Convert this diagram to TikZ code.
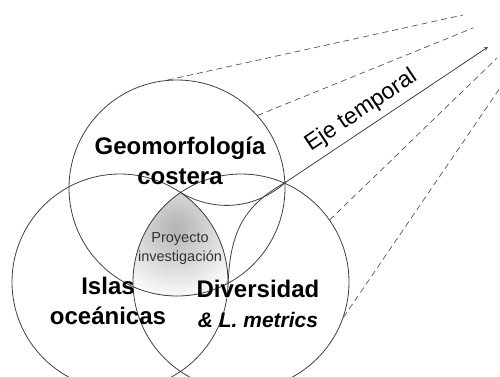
\documentclass[tikz,border=0pt]{standalone}
\usepackage{fontspec}
\setmainfont{Liberation Sans}
\usetikzlibrary{arrows}
\definecolor{linea}{HTML}{404040}
\definecolor{trazo}{HTML}{555555}
\begin{document}
\begin{tikzpicture}[x=1pt, y=-1pt, >=stealth, line width=0.8pt,
  tema/.style={font=\fontsize{24}{30}\selectfont\bfseries, align=center},
  esfera/.style={circle, draw=linea, minimum size=216pt, inner sep=0pt},
  proy/.style={dashed, draw=trazo, line width=0.7pt, dash pattern=on 6pt off 4pt}]
\useasboundingbox (0,0) rectangle (500,376);
% Sombreado del proyecto
\begin{scope}
\clip (120,282) circle (108);
\clip (241,282) circle (108);
\clip (177,188) circle (108);
\fill [inner color=black!30, outer color=white] (176,228) circle (74);
\end{scope}
% Nodos
\node [esfera] (geo) at (177,188) {};
\node [esfera] (isl) at (120,282) {};
\node [esfera] (div) at (241,282) {};
\coordinate (pun) at (180,192);
\coordinate (vert) at (286,182);
\coordinate (fin) at (488,47);
\coordinate (e1) at (463,15);
\coordinate (e2) at (473,28);
\coordinate (e3) at (497,58);
\coordinate (e4) at (502,85);
% Textos
\node [tema] (tgeo) at (180,161) {Geomorfología\\costera};
\node [tema] (tisl) at (108,301) {Islas\\oceánicas};
\node [tema] (tdiv) at (258,304) {Diversidad\\{\fontsize{21}{30}\selectfont\itshape\& L. metrics}};
\node [align=center, text=black!80, font=\fontsize{14.5}{19}\selectfont] (tpro) at (180,249) {Proyecto\\investigación};
% Cono
\draw [linea] (pun) .. controls (200,205) and (245,218) .. (vert);
\draw [linea] (vert) .. controls (245,205) and (230,230) .. (228,285);
% Ejes
\path (vert) edge [->, draw=linea] node [above=3pt, sloped, pos=0.42, font=\fontsize{23}{23}\selectfont] {Eje temporal} (fin);
\path (geo.95) edge [proy] (e1);
\path (geo.42) edge [proy] (e2);
\path (div.35) edge [proy] (e3);
\path (div.-19) edge [proy] (e4);
\end{tikzpicture}
\end{document}
